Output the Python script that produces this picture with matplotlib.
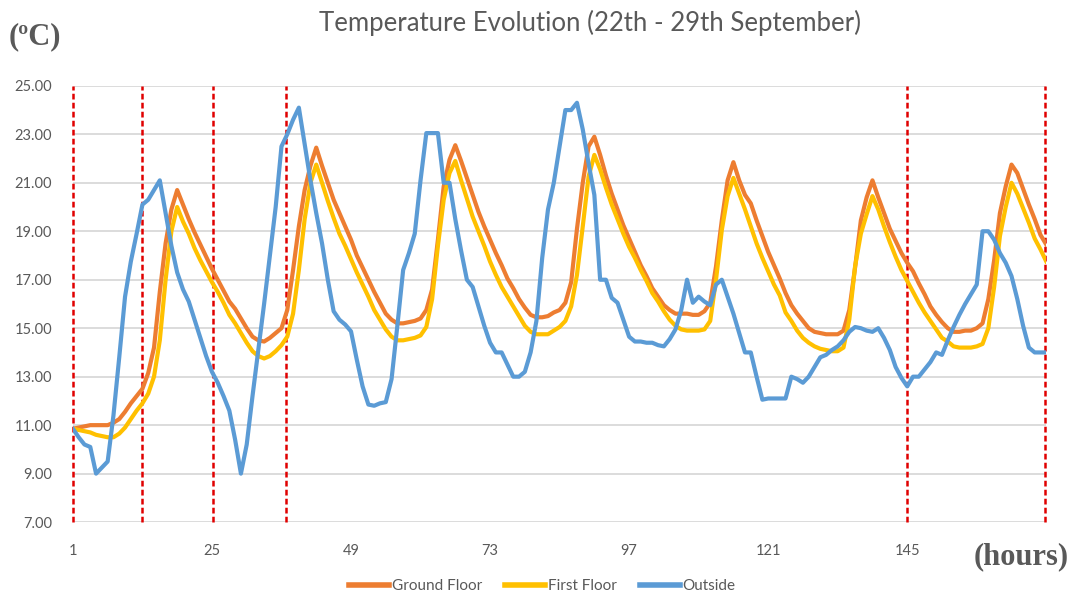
import matplotlib
matplotlib.use('Agg')
import matplotlib.pyplot as plt

hours = list(range(1, 170))

ground_floor = [
    10.85, 10.9, 10.95, 11.0, 11.0, 11.0, 11.0, 11.1, 11.25, 11.55, 11.9, 12.2, 12.5, 13.15, 14.2, 16.5, 18.5, 19.9, 20.7, 20.1, 19.5, 18.95, 18.45, 17.95,
    17.45, 17.0, 16.55, 16.1, 15.8, 15.4, 15.0, 14.65, 14.5, 14.45, 14.6, 14.8, 15.0, 15.75, 17.4, 19.2, 20.7, 21.7, 22.45, 21.7, 21.0, 20.3, 19.75, 19.2,
    18.65, 18.0, 17.5, 17.0, 16.5, 16.05, 15.6, 15.35, 15.2, 15.2, 15.25, 15.3, 15.4, 15.75, 16.6, 18.65, 20.85, 21.95, 22.55, 21.9, 21.2, 20.5, 19.8, 19.2,
    18.65, 18.1, 17.6, 17.05, 16.65, 16.2, 15.85, 15.55, 15.45, 15.45, 15.5, 15.65, 15.75, 16.05, 16.9, 19.1, 21.0, 22.5, 22.9, 22.15, 21.3, 20.55, 19.9, 19.25,
    18.7, 18.15, 17.6, 17.15, 16.65, 16.3, 15.95, 15.75, 15.6, 15.6, 15.6, 15.55, 15.55, 15.7, 16.05, 17.55, 19.45, 21.1, 21.85, 21.1, 20.5, 20.15, 19.45, 18.8,
    18.15, 17.6, 17.05, 16.45, 15.95, 15.6, 15.3, 15.0, 14.85, 14.8, 14.75, 14.75, 14.75, 14.9, 15.75, 17.5, 19.45, 20.4, 21.1, 20.4, 19.75, 19.1, 18.6, 18.1,
    17.7, 17.35, 16.85, 16.4, 15.9, 15.55, 15.25, 15.0, 14.85, 14.85, 14.9, 14.9, 15.0, 15.2, 16.2, 17.8, 19.75, 20.85, 21.75, 21.4, 20.75, 20.1, 19.5, 18.85, 18.45,
]

first_floor = [
    10.85, 10.8, 10.75, 10.7, 10.6, 10.55, 10.5, 10.5, 10.65, 10.9, 11.25, 11.6, 11.9, 12.3, 13.0, 14.5, 17.0, 19.0, 20.0, 19.4, 18.9, 18.3, 17.8, 17.35,
    16.9, 16.5, 16.05, 15.55, 15.2, 14.8, 14.4, 14.05, 13.85, 13.75, 13.85, 14.05, 14.3, 14.65, 15.6, 17.4, 19.5, 21.0, 21.75, 21.0, 20.25, 19.55, 18.9, 18.4,
    17.85, 17.3, 16.8, 16.3, 15.75, 15.35, 14.95, 14.65, 14.5, 14.5, 14.55, 14.6, 14.7, 15.05, 16.2, 18.4, 20.3, 21.4, 21.9, 21.1, 20.35, 19.6, 19.0, 18.4,
    17.75, 17.2, 16.7, 16.3, 15.9, 15.5, 15.1, 14.85, 14.75, 14.75, 14.75, 14.9, 15.05, 15.3, 15.9, 17.2, 19.2, 21.25, 22.15, 21.55, 20.8, 20.1, 19.5, 18.9,
    18.35, 17.9, 17.4, 16.95, 16.45, 16.1, 15.7, 15.35, 15.1, 14.95, 14.9, 14.9, 14.9, 14.95, 15.3, 17.0, 19.05, 20.45, 21.2, 20.55, 19.9, 19.2, 18.5, 17.9,
    17.35, 16.8, 16.35, 15.65, 15.3, 14.9, 14.6, 14.4, 14.25, 14.15, 14.1, 14.05, 14.05, 14.2, 15.35, 17.55, 18.9, 19.7, 20.45, 19.9, 19.2, 18.55, 17.95, 17.4,
    16.95, 16.5, 16.05, 15.65, 15.3, 14.95, 14.6, 14.45, 14.25, 14.2, 14.2, 14.2, 14.25, 14.35, 15.0, 16.7, 18.8, 20.0, 21.0, 20.55, 19.95, 19.35, 18.7, 18.25, 17.75,
]

outside = [
    10.85, 10.5, 10.2, 10.1, 9.0, 9.25, 9.5, 11.4, 13.8, 16.3, 17.75, 18.9, 20.1, 20.3, 20.7, 21.1, 19.75, 18.4, 17.3, 16.6, 16.1, 15.35, 14.6, 13.85,
    13.2, 12.75, 12.2, 11.6, 10.4, 9.0, 10.2, 12.2, 14.1, 16.0, 18.0, 20.0, 22.5, 23.0, 23.6, 24.1, 22.6, 21.1, 19.75, 18.5, 17.0, 15.7, 15.35, 15.15,
    14.87, 13.7, 12.6, 11.85, 11.8, 11.9, 11.95, 12.9, 15.1, 17.4, 18.1, 18.9, 21.1, 23.05, 23.05, 23.05, 21.0, 21.0, 19.5, 18.2, 17.0, 16.7, 15.9, 15.1,
    14.4, 14.0, 14.0, 13.5, 13.0, 13.0, 13.2, 14.0, 15.3, 17.9, 19.9, 21.0, 22.5, 24.0, 24.0, 24.3, 23.2, 21.8, 20.5, 17.0, 17.0, 16.25, 16.05, 15.35,
    14.65, 14.45, 14.45, 14.4, 14.4, 14.3, 14.25, 14.55, 14.95, 15.75, 17.0, 16.05, 16.3, 16.1, 15.95, 16.8, 17.0, 16.3, 15.6, 14.8, 14.0, 14.0, 13.0, 12.05,
    12.1, 12.1, 12.1, 12.1, 13.0, 12.9, 12.75, 13.0, 13.4, 13.8, 13.9, 14.1, 14.25, 14.5, 14.85, 15.05, 15.0, 14.9, 14.85, 15.0, 14.6, 14.1, 13.4, 12.95,
    12.6, 13.0, 13.0, 13.3, 13.6, 14.0, 13.9, 14.5, 15.05, 15.55, 16.0, 16.4, 16.8, 19.0, 19.0, 18.65, 18.1, 17.7, 17.15, 16.2, 15.1, 14.2, 14.0, 14.0, 14.0,
]

# hand-drawn day markers (not exactly on the hour grid in the original)
marked_hours = [1, 13, 25.25, 37.8, 145, 168.8]
x_ticks = [1, 25, 49, 73, 97, 121, 145]
y_ticks = [7, 9, 11, 13, 15, 17, 19, 21, 23, 25]

grey = '#595959'
plt.rcParams['font.family'] = ['Lato', 'DejaVu Sans']

fig = plt.figure(figsize=(10.72, 5.96), dpi=100)
ax = fig.add_axes([0.068, 0.124, 0.908, 0.732])

for h in marked_hours:
    ax.axvline(h, color='#E00000', ls=(0, (2.3, 1.3)), lw=1.8, zorder=1, clip_on=False)

l1, = ax.plot(hours, ground_floor, color='#ED7D31', lw=3, label='Ground Floor', zorder=3)
l2, = ax.plot(hours, first_floor, color='#FFC000', lw=3, label='First Floor', zorder=3)
l3, = ax.plot(hours, outside, color='#5B9BD5', lw=3, label='Outside', zorder=4)

ax.set_xlim(1, 169)
ax.set_ylim(7, 25)
ax.set_yticks(y_ticks)
ax.set_yticklabels(['%.2f' % v for v in y_ticks])
ax.set_xticks(x_ticks)
ax.yaxis.grid(True, color='#D9D9D9', lw=1.3)
ax.set_axisbelow(True)
for s in ax.spines.values():
    s.set_visible(False)
ax.tick_params(length=0, colors=grey, labelsize=10.5)
ax.tick_params(axis='x', pad=16)
ax.tick_params(axis='y', pad=15)

fig.text(0.55, 0.962, 'Temperature Evolution (22th - 29th September)', ha='center', va='center',
         fontsize=18.5, color=grey)
fig.text(0.008, 0.938, '(ºC)', ha='left', va='center', fontsize=22, fontweight='bold',
         color=grey, family='Liberation Serif')
fig.text(0.997, 0.066, '(hours)', ha='right', va='center', fontsize=22, fontweight='bold',
         color=grey, family='Liberation Serif')

leg = fig.legend(handles=[l1, l2, l3], loc='center', bbox_to_anchor=(0.506, 0.017), ncol=3,
                 frameon=False, fontsize=11, handlelength=2.6, columnspacing=1.5, handletextpad=0.2)
for t in leg.get_texts():
    t.set_color(grey)
for line in leg.get_lines():
    line.set_linewidth(4)

fig.savefig('out.png', dpi=100)
